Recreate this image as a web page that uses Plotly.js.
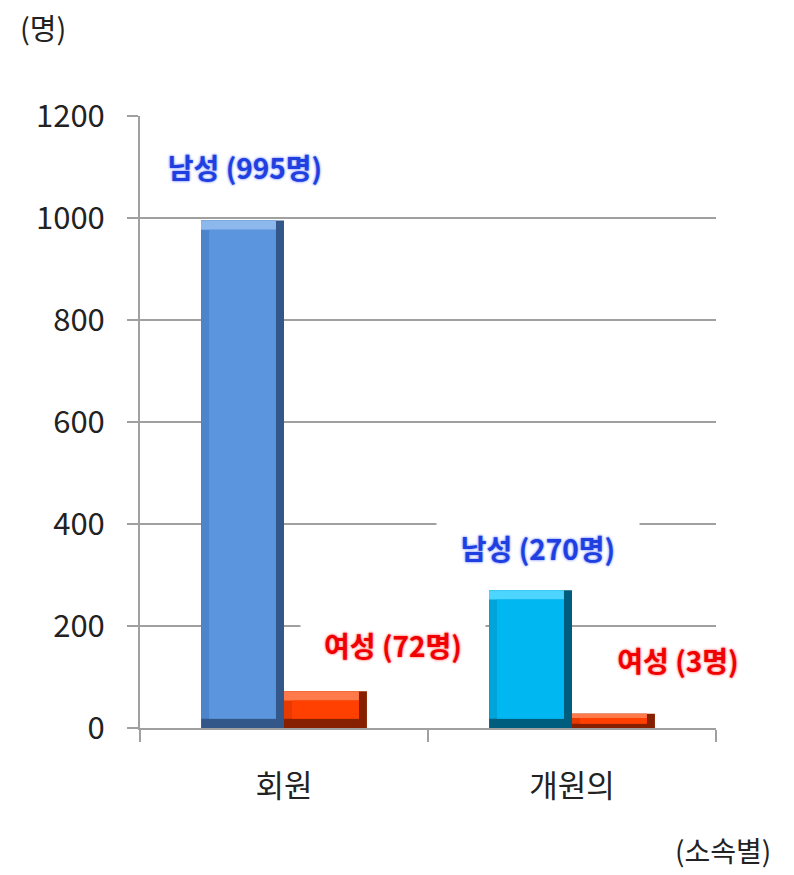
<!DOCTYPE html>
<html>
<head>
<meta charset="utf-8">
<script src="https://cdn.plot.ly/plotly-3.0.1.min.js"></script>
<style>html,body{margin:0;padding:0;background:#fff;}#chart{width:794px;height:875px;}</style>
</head>
<body>
<div id="chart"></div>
<script>
// Data
const categories = ['회원', '개원의'];
const maleValues = [995, 270];
const femaleValues = [72, 28];
const maleCounts = [995, 270];
const femaleCounts = [72, 3];
const yTickValues = [0, 200, 400, 600, 800, 1000, 1200];
const yUnit = '(명)';
const xUnit = '(소속별)';

const FONT = '"Noto Sans CJK KR", "Noto Sans", sans-serif';

// bar styling (bevel look built from stacked layers per series)
const BAR_W = 0.288;     // bar width in category units
const BEVEL_X = 0.028;   // bevel width in category units
const BEVEL_Y = 18;      // max bevel height in value units

function bevelTraces(values, offset, c) {
  const by = values.map(v => Math.min(BEVEL_Y, v * 0.3));
  const common = { type: 'bar', x: categories, hoverinfo: 'skip' };
  const outer = Object.assign({}, common, {
    y: values, width: BAR_W, offset: offset,
    marker: { color: c.dark, line: { width: 0 } }
  });
  const leftLayer = Object.assign({}, common, {
    y: values.map((v, i) => v - by[i]), base: by,
    width: BAR_W - BEVEL_X, offset: offset,
    marker: { color: c.left, line: { width: 0 } }
  });
  const topLayer = Object.assign({}, common, {
    y: by, base: values.map((v, i) => v - by[i]),
    width: BAR_W - BEVEL_X, offset: offset,
    marker: { color: c.light, line: { width: 0 } }
  });
  const faceLayer = Object.assign({}, common, {
    y: values.map((v, i) => Math.max(v - 2 * by[i], 0)), base: by,
    width: BAR_W - 2 * BEVEL_X, offset: offset + BEVEL_X,
    marker: { color: c.face, line: { width: 0 } }
  });
  return [outer, leftLayer, topLayer, faceLayer];
}

const traces = [].concat(
  bevelTraces(maleValues, -BAR_W, {
    face: ['#5b95dd', '#00b7f1'], left: ['#4d85cc', '#00a4d8'],
    light: ['#8cb8ee', '#4cd6ff'], dark: ['#34578a', '#005d7e']
  }),
  bevelTraces(femaleValues, 0, {
    face: '#ff4000', left: '#e63a00', light: '#ff7a4a', dark: '#862000'
  })
);

const labelPos = [
  { x: -0.135, y: 1100, w: 180 },
  { x: 0.378, y: 163, w: 182 },
  { x: 0.882, y: 353, w: 200 },
  { x: 1.368, y: 133, w: 150 }
];
function mkLabel(text, pos, color, glow) {
  return {
    xref: 'x', yref: 'y', x: pos.x, y: pos.y, xanchor: 'center', yanchor: 'middle',
    text: text, showarrow: false,
    bgcolor: '#ffffff', width: pos.w, height: 50,
    font: { family: FONT, size: 28, color: color, weight: 'bold',
            shadow: '0px 0px 3px ' + glow + ', 0px 0px 2px ' + glow }
  };
}
const annotations = [
  mkLabel('남성 (' + maleCounts[0] + '명)', labelPos[0], '#1f3fe0', '#8fa2ff'),
  mkLabel('여성 (' + femaleCounts[0] + '명)', labelPos[1], '#f00000', '#ff8a8a'),
  mkLabel('남성 (' + maleCounts[1] + '명)', labelPos[2], '#1f3fe0', '#8fa2ff'),
  mkLabel('여성 (' + femaleCounts[1] + '명)', labelPos[3], '#f00000', '#ff8a8a'),
  { xref: 'paper', yref: 'paper', x: -0.168, y: 1.145, xanchor: 'center', yanchor: 'middle',
    text: yUnit, showarrow: false, font: { family: FONT, size: 29, color: '#222' } },
  { xref: 'paper', yref: 'paper', x: 1.012, y: -0.2, xanchor: 'center', yanchor: 'middle',
    text: xUnit, showarrow: false, font: { family: FONT, size: 28, color: '#222' } }
];

const layout = {
  width: 794, height: 875,
  margin: { l: 140, r: 78, t: 116, b: 147 },
  paper_bgcolor: '#ffffff', plot_bgcolor: '#ffffff',
  showlegend: false,
  barmode: 'overlay',
  font: { family: FONT, size: 30, color: '#222' },
  xaxis: {
    type: 'category', range: [-0.5, 1.5],
    showline: true, linecolor: '#a0a0a0', linewidth: 2,
    ticks: 'outside', tickson: 'boundaries', ticklen: 12, tickcolor: '#a0a0a0', tickwidth: 1.5,
    ticklabelstandoff: 30,
    tickfont: { family: FONT, size: 31, color: '#222' },
    showgrid: false, zeroline: false
  },
  yaxis: {
    range: [0, 1200], tickvals: yTickValues,
    showline: true, linecolor: '#a0a0a0', linewidth: 2,
    ticks: 'outside', ticklen: 11, tickcolor: '#a0a0a0', tickwidth: 1.5,
    ticklabelstandoff: 16,
    tickfont: { family: FONT, size: 31, color: '#222' },
    showgrid: true, gridcolor: '#a0a0a0', gridwidth: 1.5,
    zeroline: false
  },
  annotations: annotations
};

Plotly.newPlot('chart', traces, layout, { displayModeBar: false, staticPlot: true });
</script>
</body>
</html>
